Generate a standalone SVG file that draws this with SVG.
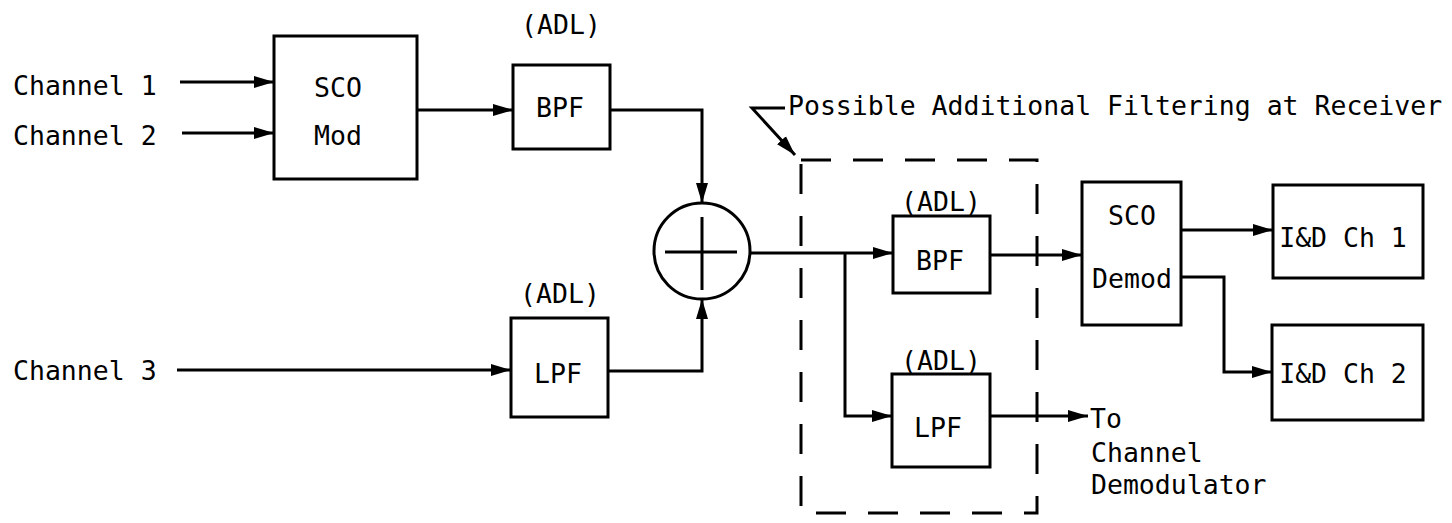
<svg xmlns="http://www.w3.org/2000/svg" width="1452" height="523" viewBox="0 0 1452 523">
<style>
.box{fill:#fff;stroke:#000;stroke-width:3}
.t{font-family:"DejaVu Sans Mono","Liberation Mono",monospace;font-size:26.5px;fill:#000}
.m{text-anchor:middle}
.c{fill:none;stroke:#000;stroke-width:3;stroke-linejoin:miter}
.a{marker-end:url(#ah)}
.dash{fill:none;stroke:#000;stroke-width:3;stroke-dasharray:30 22}
</style>
<defs>
<marker id="ah" markerWidth="22" markerHeight="14" refX="20" refY="7" orient="auto" markerUnits="userSpaceOnUse">
<path d="M0,1 L20,7 L0,13 Z" fill="#000"/>
</marker>
</defs>
<rect width="1452" height="523" fill="#fff"/>
<g id="connectors">
<path class="c a" d="M180,82 H274"/>
<path class="c a" d="M182,133 H274"/>
<path class="c a" d="M417,110 H513"/>
<path class="c a" d="M610,110 H702 V203"/>
<path class="c a" d="M177,370 H511"/>
<path class="c a" d="M608,371 H702 V299"/>
<path class="c a" d="M750,253 H893"/>
<path class="c a" d="M845,253 V416 H892"/>
<path class="c a" d="M990,255 H1082"/>
<path class="c a" d="M990,416 H1088"/>
<path class="c a" d="M1181,230 H1273"/>
<path class="c a" d="M1181,277 H1224 V372 H1272"/>
<path class="c a" d="M785,108 H752 L795,155"/>
</g>
<g id="dashed-region">
<rect class="dash" x="801" y="160" width="236" height="353"/>
</g>
<g id="channel-labels">
<text class="t" x="13" y="95">Channel 1</text>
<text class="t" x="13" y="145">Channel 2</text>
<text class="t" x="13" y="380">Channel 3</text>
</g>
<g id="sco-mod">
<rect class="box" x="274" y="36" width="143" height="143"/>
<text class="t m" x="338" y="97">SCO</text>
<text class="t m" x="338" y="145">Mod</text>
</g>
<g id="bpf-tx">
<rect class="box" x="513" y="65" width="97" height="84"/>
<text class="t m" x="561" y="34">(ADL)</text>
<text class="t m" x="560" y="117">BPF</text>
</g>
<g id="lpf-tx">
<rect class="box" x="511" y="318" width="97" height="99"/>
<text class="t m" x="560" y="303">(ADL)</text>
<text class="t m" x="558" y="383">LPF</text>
</g>
<g id="summer">
<circle cx="702" cy="251" r="48" fill="#fff" stroke="#000" stroke-width="3"/>
<path d="M665,252 H737 M702,217 V290" stroke="#000" stroke-width="3" fill="none"/>
</g>
<g id="note">
<text class="t" x="788" y="115">Possible Additional Filtering at Receiver</text>
</g>
<g id="bpf-rx">
<rect class="box" x="893" y="216" width="97" height="77"/>
<text class="t m" x="941" y="211">(ADL)</text>
<text class="t m" x="940" y="270">BPF</text>
</g>
<g id="lpf-rx">
<rect class="box" x="892" y="374" width="98" height="93"/>
<text class="t m" x="941" y="370">(ADL)</text>
<text class="t m" x="938" y="437">LPF</text>
</g>
<g id="to-demod">
<text class="t" x="1090" y="428">To</text>
<text class="t" x="1091" y="462">Channel</text>
<text class="t" x="1091" y="494">Demodulator</text>
</g>
<g id="sco-demod">
<rect class="box" x="1082" y="182" width="99" height="143"/>
<text class="t m" x="1132" y="225">SCO</text>
<text class="t m" x="1132" y="288">Demod</text>
</g>
<g id="id-ch1">
<rect class="box" x="1273" y="185" width="150" height="93"/>
<text class="t m" x="1343" y="247">I&amp;D Ch 1</text>
</g>
<g id="id-ch2">
<rect class="box" x="1272" y="325" width="151" height="95"/>
<text class="t m" x="1343" y="383">I&amp;D Ch 2</text>
</g>
</svg>
